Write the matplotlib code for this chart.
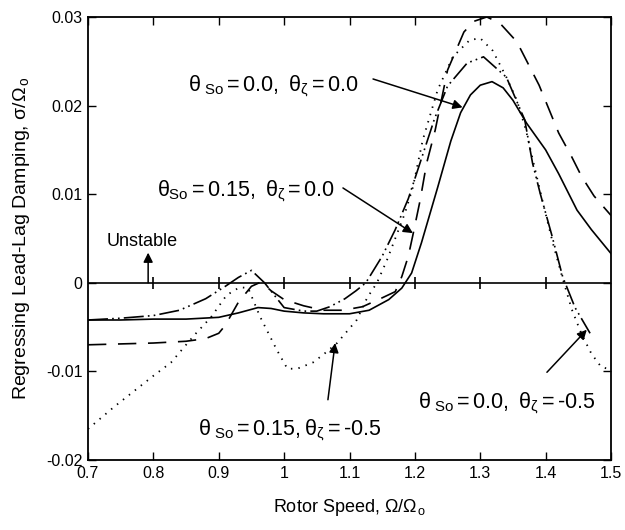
import numpy as np
import matplotlib
matplotlib.use("Agg")
import matplotlib.pyplot as plt

plt.rcParams['font.family'] = ['Liberation Sans', 'DejaVu Sans']
plt.rcParams['mathtext.fontset'] = 'custom'
plt.rcParams['mathtext.rm'] = 'Liberation Sans'
plt.rcParams['mathtext.it'] = 'Liberation Sans'
plt.rcParams['mathtext.bf'] = 'Liberation Sans:bold'

# theta_So = 0.0, theta_zeta = 0.0 (solid)
solid_x = [0.70, 0.75, 0.80, 0.85, 0.90, 0.93, 0.96, 0.98, 1.00, 1.03, 1.06, 1.10, 1.13, 1.16,
           1.18, 1.195, 1.21, 1.235, 1.255, 1.27, 1.285, 1.30, 1.318, 1.335, 1.35, 1.371, 1.40,
           1.42, 1.448, 1.47, 1.50]
solid_y = [-0.0042, -0.0042, -0.0041, -0.0041, -0.0039, -0.0034, -0.0028, -0.0029, -0.0032, -0.0034,
           -0.0035, -0.0035, -0.0031, -0.0019, -0.0006, 0.0011, 0.0045, 0.0108, 0.0160, 0.0192,
           0.0212, 0.0223, 0.0227, 0.0220, 0.0206, 0.0180, 0.0150, 0.0123, 0.0082, 0.0060, 0.0033]

# theta_So = 0.15, theta_zeta = 0.0 (long dash)
ld_x = [0.70, 0.75, 0.80, 0.85, 0.88, 0.90, 0.91, 0.93, 0.95, 0.965, 0.98, 1.00, 1.03, 1.06, 1.09,
        1.12, 1.15, 1.17, 1.18, 1.19, 1.197, 1.208, 1.218, 1.231, 1.25, 1.275, 1.29, 1.31, 1.33,
        1.356, 1.39, 1.42, 1.44, 1.455, 1.474, 1.50]
ld_y = [-0.0070, -0.0069, -0.0068, -0.0066, -0.0063, -0.0057, -0.0048, -0.0022, -0.0004, 0.0001,
        -0.0009, -0.0019, -0.0026, -0.0031, -0.0031, -0.0027, -0.0017, -0.0010, 0.0007, 0.0030,
        0.0054, 0.0093, 0.0135, 0.0172, 0.0240, 0.0283, 0.0295, 0.0300, 0.0293, 0.0272, 0.0223,
        0.0169, 0.0142, 0.0120, 0.0098, 0.0076]

# theta_So = 0.0, theta_zeta = -0.5 (dash-dot)
dd_x = [0.70, 0.75, 0.80, 0.84, 0.88, 0.91, 0.93, 0.95, 0.97, 1.00, 1.03, 1.05, 1.07, 1.093, 1.11,
        1.125, 1.15, 1.17, 1.19, 1.21, 1.23, 1.25, 1.28, 1.305, 1.34, 1.368, 1.38, 1.392, 1.409,
        1.426, 1.445, 1.468]
dd_y = [-0.0042, -0.0040, -0.0037, -0.0031, -0.0018, -0.0004, 0.0006, 0.0014, 0.0000, -0.0028,
        -0.0032, -0.0032, -0.0027, -0.0018, -0.0009, 0.0000, 0.0030, 0.0060, 0.0095, 0.0140,
        0.0185, 0.0222, 0.0248, 0.0255, 0.0232, 0.0184, 0.0135, 0.0100, 0.0055, 0.0007,
        -0.0028, -0.0057]

# theta_So = 0.15, theta_zeta = -0.5 (dotted)
dt_x = [0.70, 0.74, 0.776, 0.80, 0.827, 0.85, 0.864, 0.888, 0.912, 0.932, 0.945, 0.963, 0.989,
        1.005, 1.02, 1.044, 1.06, 1.081, 1.111, 1.127, 1.142, 1.157, 1.185, 1.197, 1.212, 1.235,
        1.258, 1.284, 1.30, 1.319, 1.34, 1.356, 1.37, 1.38, 1.396, 1.411, 1.426, 1.44, 1.455,
        1.47, 1.485, 1.50]
dt_y = [-0.0165, -0.0140, -0.0119, -0.0105, -0.0090, -0.0070, -0.0058, -0.0039, -0.0014, -0.0005,
        -0.0006, -0.0038, -0.0076, -0.0097, -0.0097, -0.0090, -0.0081, -0.0068, -0.0042, -0.0017,
        0.0000, 0.0025, 0.0079, 0.0108, 0.0161, 0.0218, 0.0255, 0.0274, 0.0276, 0.0262, 0.0232,
        0.0206, 0.0172, 0.0140, 0.0090, 0.0045, 0.0005, -0.0030, -0.0058, -0.0080, -0.0095,
        -0.0098]

x_ticks = [0.7, 0.8, 0.9, 1.0, 1.1, 1.2, 1.3, 1.4, 1.5]
x_labels = ['0.7', '0.8', '0.9', '1', '1.1', '1.2', '1.3', '1.4', '1.5']
y_ticks = [-0.02, -0.01, 0, 0.01, 0.02, 0.03]
y_labels = ['-0.02', '-0.01', '0', '0.01', '0.02', '0.03']

fig = plt.figure(figsize=(6.25, 5.3), dpi=100)
ax = fig.add_axes([0.1408, 0.1321, 0.8368, 0.8359])

ax.plot(solid_x, solid_y, color='black', lw=1.2, ls='-')
ax.plot(ld_x, ld_y, color='black', lw=1.2, ls=(0, (11, 7)))
ax.plot(dd_x, dd_y, color='black', lw=1.2, ls=(0, (12, 2.5, 1, 2.5, 1, 2.5)))
ax.plot(dt_x, dt_y, color='black', lw=1.3, ls=(0, (0.8, 3.4)))

# zero line with crossing ticks
ax.axhline(0, color='black', lw=1.2)
ax.plot(x_ticks[1:-1], [0] * (len(x_ticks) - 2), ls='none', marker='|', ms=9, mew=1.2, color='black')

ax.set_xlim(0.7, 1.5)
ax.set_ylim(-0.02, 0.03)
ax.set_xticks(x_ticks)
ax.set_xticklabels(x_labels)
ax.set_yticks(y_ticks)
ax.set_yticklabels(y_labels)
ax.tick_params(direction='in', top=True, right=True, length=6, width=1.0, labelsize=11.5, pad=4)
for s in ax.spines.values():
    s.set_linewidth(1.3)

ax.set_xlabel(r'Rotor Speed, $\Omega/\Omega_{\,\rm o}$', fontsize=13, labelpad=12)
ax.set_ylabel(r'Regressing Lead-Lag Damping, $\sigma/\Omega_{\,\rm o}$', fontsize=14, labelpad=10)

fs = 15.5
arrow = dict(arrowstyle='-|>', color='black', lw=1.1, mutation_scale=14, shrinkA=0, shrinkB=0)

ax.text(0.729, 0.0047, 'Unstable', fontsize=13, va='center', ha='left')
ax.annotate('', xy=(0.792, 0.0034), xytext=(0.792, 0.0), arrowprops=arrow)

ax.text(0.853, 0.0222, r'$\theta_{\ \rm So} = 0.0,\ \theta_{\zeta} = 0.0$', fontsize=fs, va='center', ha='left')
ax.annotate('', xy=(1.273, 0.0198), xytext=(1.136, 0.0230), arrowprops=arrow)

ax.text(0.805, 0.0104, r'$\theta_{\rm So} = 0.15,\ \theta_{\zeta} = 0.0$', fontsize=fs, va='center', ha='left')
ax.annotate('', xy=(1.197, 0.0056), xytext=(1.090, 0.0107), arrowprops=arrow)

ax.text(0.868, -0.0166, r'$\theta_{\ \rm So} = 0.15, \theta_{\zeta} = $-0.5', fontsize=fs, va='center', ha='left')
ax.annotate('', xy=(1.078, -0.0068), xytext=(1.067, -0.0132), arrowprops=arrow)

ax.text(1.205, -0.0135, r'$\theta_{\ \rm So} = 0.0,\ \theta_{\zeta} = $-0.5', fontsize=fs, va='center', ha='left')
ax.annotate('', xy=(1.463, -0.0053), xytext=(1.402, -0.0101), arrowprops=arrow)

fig.savefig('out.png', dpi=100)
